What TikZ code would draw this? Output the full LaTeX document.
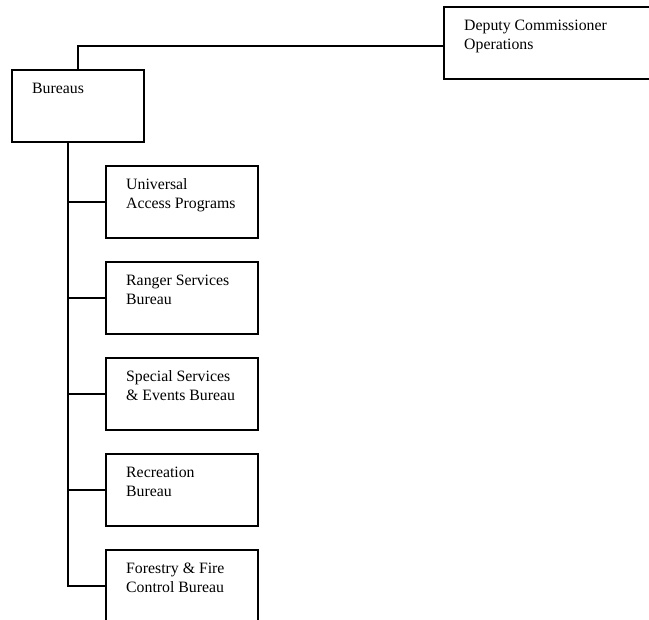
\documentclass[tikz,border=0pt]{standalone}
\usepackage{fontspec}
\setmainfont{Liberation Serif}
\usetikzlibrary{calc}
\usetikzlibrary{positioning}

\tikzset{
  unitbox/.style={draw, line width=1.8pt, minimum width=152pt, minimum height=72pt, inner sep=0pt, anchor=north west},
  unittext/.style={anchor=north west, align=left, inner sep=0pt, xshift=21pt, yshift=-13.5pt, font=\fontsize{15.8}{19}\selectfont},
  link/.style={line width=1.5pt}
}

\begin{document}
\begin{tikzpicture}[x=1pt, y=-1pt]
\clip (0,0) rectangle (649,620);
\fill[white] (0,0) rectangle (649,620);
\node[unitbox, minimum width=220pt, label={[unittext]north west:{Deputy Commissioner\\Operations}}] (dco) at (443,6) {};
\node[unitbox, minimum width=132pt, label={[unittext]north west:{Bureaus}}] (bur) at (11,69) {};
\foreach \name/\txt [count=\i from 0] in {uap/{Universal\\Access Programs}, rsb/{Ranger Services\\Bureau}, sseb/{Special Services\\\& Events Bureau}, rb/{Recreation\\Bureau}, ffcb/{Forestry \& Fire\\Control Bureau}} {
 \node[unitbox, label={[unittext]north west:{\txt}}] (\name) at (105,165+96*\i) {};
}
\coordinate (trunk) at ([xshift=-10pt]bur.south);
\draw[link] ([yshift=-3pt]dco.west) -| (bur.north);
\draw[link] (trunk) |- (ffcb.west);
\foreach \name in {uap, rsb, sseb, rb} {
 \draw[link] (\name.west) -- (\name.west -| trunk);
}
\end{tikzpicture}
\end{document}
